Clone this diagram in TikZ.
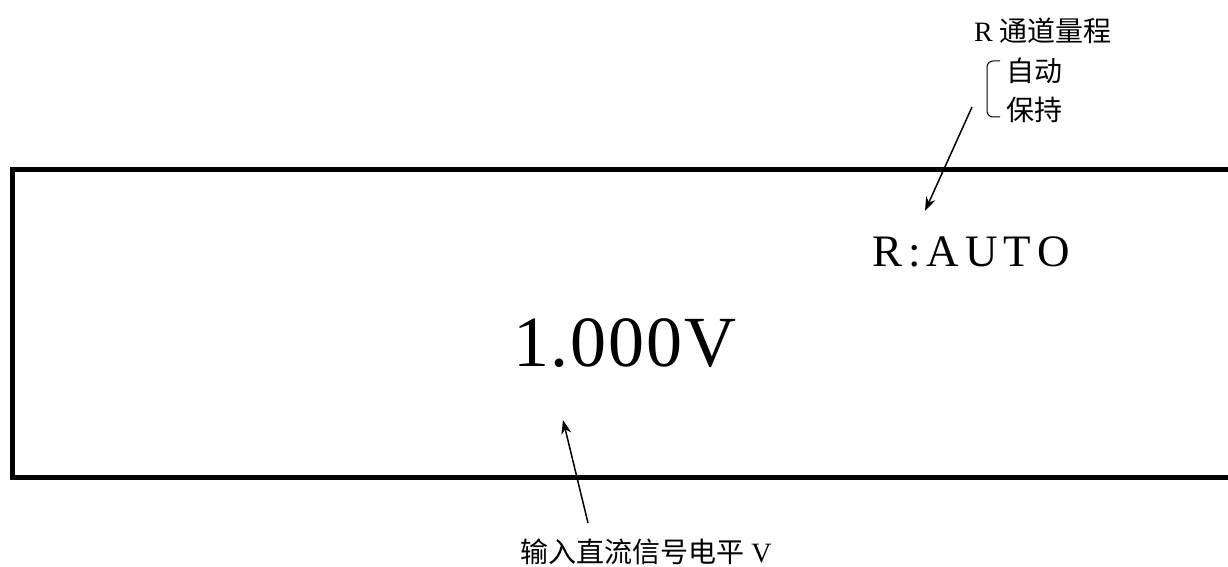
\documentclass[tikz,border=0pt]{standalone}
\usepackage{fontspec}
\setmainfont{Liberation Serif}
\newfontfamily\cjk{Noto Sans CJK SC}
\usetikzlibrary{arrows.meta,positioning}

\tikzset{DSframe/.style={line width=2.5pt},
         DSlab/.style={inner sep=0pt,font=\fontsize{14}{16}\selectfont},
         DSarr/.style={line width=0.75pt,-{Stealth[length=7pt,width=5pt]}},
         DSbig/.style={inner sep=0pt,font=\fontsize{36}{40}\selectfont},
         DSmid/.style={inner sep=0pt,font=\fontsize{22.5}{26}\selectfont}}

\begin{document}
\begin{tikzpicture}[x=0.5pt,y=-0.5pt]
  \useasboundingbox (0,0) rectangle (1228,567);
  % display frame, open on the right
  \draw[DSframe] (1230,170) -| (12.5,477) -- (1230,477);
  % readings
  \node[DSbig] (val) at (625,343) {1\kern1pt.\kern1pt0\kern1pt0\kern1pt0\kern1pt V};
  \node[DSmid] (rng) at (971,252) {R\kern3pt:\kern3pt A\kern3pt U\kern3pt T\kern3pt O};
  % range labels
  \node[DSlab] (rlab) at (1043,31) {R {\cjk 通道量程}};
  \node[DSlab,anchor=west] (auto) at (1006,71) {\cjk 自动};
  \node[DSlab,anchor=west] (hold) at (1006,110) {\cjk 保持};
  \draw[line width=0.5pt,rounded corners=3pt] (1000,61) -| (987,117) -- (1000,117);
  % input level label
  \node[DSlab] (vlab) at (646,552) {{\cjk 输入直流信号电平} V};
  \coordinate (rtail) at (972,107); \coordinate (rtip) at (925,211);
  \coordinate (vtail) at (588,523); \coordinate (vtip) at (563,420);
  \draw[DSarr] (rtail) -- (rtip);
  \draw[DSarr] (vtail) -- (vtip);
\end{tikzpicture}
\end{document}
